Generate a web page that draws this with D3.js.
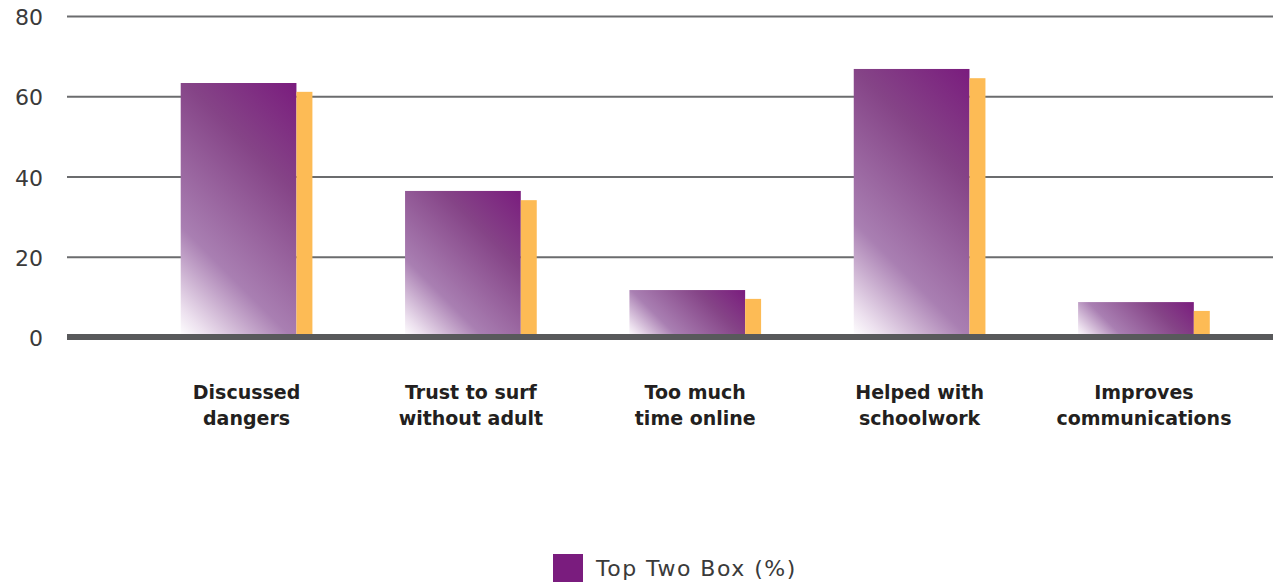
<!DOCTYPE html>
<html>
<head>
<meta charset="utf-8">
<script src="https://cdn.jsdelivr.net/npm/d3@7"></script>
<style>
  html, body { margin: 0; padding: 0; background: #fff; }
  svg { display: block; }
</style>
</head>
<body>
<svg id="chart" width="1280" height="582"></svg>
<script>
// Survey categories (two-line labels)
const categories = [
  ["Discussed", "dangers"],
  ["Trust to surf", "without adult"],
  ["Too much", "time online"],
  ["Helped with", "schoolwork"],
  ["Improves", "communications"]
];
// Main series: Top Two Box (%)
const topTwoBox = [63.3, 36.4, 11.7, 66.8, 8.7];
// Secondary comparison series (narrow orange bars)
const secondSeries = [61.1, 34.1, 9.5, 64.5, 6.5];
const yTicks = [0, 20, 40, 60, 80];
const legendLabel = "Top Two Box (%)";

const svg = d3.select("#chart");
const keys = categories.map(c => c.join(" "));

const y = d3.scaleLinear().domain([0, 80]).range([337, 16]);
const x = d3.scaleBand().domain(keys).range([134.5, 1256])
  .paddingInner(0.413).paddingOuter(0.206);

const plotLeft = 67, plotRight = 1273;
const purple = "#7a1c7e", orange = "#fdbb55";
const font = "'DejaVu Sans', Verdana, sans-serif";

// Gridlines
const yAxis = d3.axisLeft(y).tickValues(yTicks.filter(t => t > 0))
  .tickSize(-(plotRight - plotLeft)).tickFormat("");
const gy = svg.append("g").attr("transform", `translate(${plotLeft},0)`).call(yAxis);
gy.select(".domain").remove();
gy.selectAll(".tick line").attr("stroke", "#6b6c6e").attr("stroke-width", 2);
gy.selectAll(".tick text").remove();

// Tick labels
svg.append("g").selectAll("text").data(yTicks).join("text")
  .attr("x", 43).attr("y", d => y(d) + 9)
  .attr("text-anchor", "end")
  .attr("font-family", font)
  .attr("font-size", 22)
  .attr("fill", "#3a3a3a")
  .text(d => d);

// Gradients: white at lower-left fading to purple at upper-right, per bar
const defs = svg.append("defs");
const bw = x.bandwidth();
const purpleW = bw * 116 / 132;
const orangeW = bw - purpleW;

topTwoBox.forEach((v, i) => {
  const x0 = x(keys[i]);
  const h = y(0) - y(v);
  const s = (purpleW + h) / 2;
  const g = defs.append("linearGradient")
    .attr("id", "grad" + i)
    .attr("gradientUnits", "userSpaceOnUse")
    .attr("x1", x0).attr("y1", y(0))
    .attr("x2", x0 + s).attr("y2", y(0) - s);
  [[0, "#ffffff"], [0.08, "#ece0ee"], [0.3, "#a97fb2"], [0.7, "#854487"], [1, purple]]
    .forEach(([o, c]) => g.append("stop").attr("offset", o).attr("stop-color", c));
});

// Purple bars
svg.append("g").selectAll("rect").data(topTwoBox).join("rect")
  .attr("x", (d, i) => x(keys[i]))
  .attr("y", d => y(d))
  .attr("width", purpleW)
  .attr("height", d => y(0) - y(d))
  .attr("fill", (d, i) => `url(#grad${i})`);

// Orange bars
svg.append("g").selectAll("rect").data(secondSeries).join("rect")
  .attr("x", (d, i) => x(keys[i]) + purpleW)
  .attr("y", d => y(d))
  .attr("width", orangeW)
  .attr("height", d => y(0) - y(d))
  .attr("fill", orange);

// Baseline
svg.append("line")
  .attr("x1", plotLeft).attr("x2", plotRight)
  .attr("y1", y(0)).attr("y2", y(0))
  .attr("stroke", "#58595b").attr("stroke-width", 6);

// Category labels
const lab = svg.append("g").selectAll("text").data(categories).join("text")
  .attr("text-anchor", "middle")
  .attr("font-family", font)
  .attr("font-weight", 700)
  .attr("font-size", 19)
  .attr("fill", "#231f20");
lab.each(function(c, i) {
  const cx = x(keys[i]) + bw / 2;
  d3.select(this).selectAll("tspan").data(c).join("tspan")
    .attr("x", cx)
    .attr("y", (d, j) => 399 + j * 26)
    .text(d => d);
});

// Legend
svg.append("rect").attr("x", 553).attr("y", 554).attr("width", 30).attr("height", 28).attr("fill", purple);
svg.append("text").attr("x", 596).attr("y", 576)
  .attr("font-family", font)
  .attr("font-size", 22)
  .attr("letter-spacing", 1.5)
  .attr("fill", "#3a3a3a")
  .text(legendLabel);
</script>
</body>
</html>
